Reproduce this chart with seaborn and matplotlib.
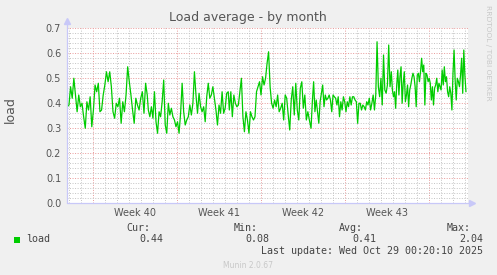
import numpy as np
import pandas as pd
import matplotlib
matplotlib.use("Agg")
import matplotlib.pyplot as plt
import matplotlib.transforms as mtransforms
from matplotlib.ticker import MultipleLocator, FixedLocator, NullFormatter, FormatStrFormatter
import seaborn as sns

# ---------------- data ----------------
title = "Load average - by month"
ylabel = "load"
week_labels = ["Week 40", "Week 41", "Week 42", "Week 43"]
week_starts = [0, 7, 14, 21, 28]          # days since start of week 40
x_range = (-2.167, 31.25)                 # graph window, days
y_range = (0.0, 0.7)

# 2-hour averaged load, split per time span (days)
seg_spans = [(-2.14, 4.52), (4.61, 11.27), (11.36, 18.03), (18.17, 24.75), (24.86, 31.08)]
seg1 = [0.385, 0.392, 0.465, 0.419, 0.499, 0.432, 0.365, 0.432, 0.385, 0.399,
        0.345, 0.299, 0.405, 0.372, 0.425, 0.305, 0.372, 0.472, 0.445, 0.479,
        0.365, 0.372, 0.432, 0.472, 0.525, 0.485, 0.525, 0.465, 0.365, 0.339,
        0.399, 0.385, 0.419, 0.319, 0.405, 0.365, 0.432, 0.545, 0.485, 0.432,
        0.372, 0.319, 0.419, 0.392, 0.372, 0.419, 0.445, 0.359, 0.479, 0.432]
seg2 = [0.372, 0.345, 0.385, 0.339, 0.445, 0.325, 0.279, 0.365, 0.345, 0.405,
        0.492, 0.312, 0.279, 0.399, 0.352, 0.379, 0.345, 0.332, 0.305, 0.325,
        0.279, 0.359, 0.479, 0.365, 0.312, 0.332, 0.345, 0.392, 0.352, 0.399,
        0.525, 0.432, 0.359, 0.439, 0.385, 0.365, 0.385, 0.325, 0.425, 0.479,
        0.419, 0.432, 0.465, 0.419, 0.372, 0.312, 0.392, 0.359, 0.445, 0.359,
        0.379, 0.439, 0.445]
seg3 = [0.372, 0.445, 0.345, 0.432, 0.399, 0.385, 0.392, 0.445, 0.499, 0.345,
        0.285, 0.365, 0.332, 0.279, 0.365, 0.345, 0.332, 0.345, 0.445, 0.465,
        0.485, 0.432, 0.505, 0.472, 0.499, 0.559, 0.605, 0.465, 0.399, 0.379,
        0.412, 0.385, 0.432, 0.365, 0.379, 0.399, 0.332, 0.432, 0.419, 0.352,
        0.292, 0.412, 0.465, 0.352, 0.479, 0.372, 0.332, 0.459, 0.485, 0.379,
        0.432, 0.332, 0.365, 0.332]
seg4 = [0.299, 0.405, 0.485, 0.365, 0.412, 0.365, 0.319, 0.405, 0.439, 0.472,
        0.385, 0.432, 0.412, 0.419, 0.432, 0.412, 0.365, 0.432, 0.425, 0.419,
        0.392, 0.425, 0.345, 0.405, 0.372, 0.425, 0.405, 0.365, 0.405, 0.385,
        0.425, 0.392, 0.425, 0.425, 0.412, 0.405, 0.319, 0.399, 0.399, 0.372,
        0.392, 0.385, 0.372, 0.405, 0.392, 0.419, 0.372, 0.399, 0.432, 0.372,
        0.432, 0.645, 0.465, 0.425, 0.499, 0.392, 0.592, 0.452, 0.439, 0.472,
        0.632, 0.465]
seg5 = [0.525, 0.452, 0.425, 0.445, 0.379, 0.472, 0.532, 0.432, 0.505, 0.545,
        0.399, 0.479, 0.525, 0.405, 0.432, 0.472, 0.385, 0.452, 0.472, 0.499,
        0.519, 0.505, 0.465, 0.385, 0.512, 0.519, 0.485, 0.525, 0.579, 0.525,
        0.552, 0.392, 0.519, 0.512, 0.485, 0.499, 0.479, 0.412, 0.465, 0.392,
        0.459, 0.472, 0.499, 0.445, 0.479, 0.465, 0.452, 0.532, 0.472, 0.545,
        0.485, 0.505, 0.445, 0.425, 0.465, 0.439, 0.372, 0.519, 0.612, 0.492,
        0.412, 0.499, 0.485, 0.465, 0.512, 0.579, 0.439, 0.612, 0.512, 0.445]
segments = [seg1, seg2, seg3, seg4, seg5]

stat_names = ["Cur:", "Min:", "Avg:", "Max:"]
stat_values = ["0.44", "0.08", "0.41", "2.04"]
series_name = "load"
last_update = "Last update: Wed Oct 29 00:20:10 2025"
footer = "Munin 2.0.67"
watermark = "RRDTOOL / TOBI OETIKER"

# ---------------- build frame ----------------
frames = []
for (a, b), vals in zip(seg_spans, segments):
    frames.append(pd.DataFrame({"day": np.linspace(a, b, len(vals)), "load": vals}))
df = pd.concat(frames, ignore_index=True)

# ---------------- plot ----------------
sns.set_theme(style="white")
plt.rcParams["font.family"] = ["DejaVu Sans"]

W, H = 497, 275
fig = plt.figure(figsize=(W / 100, H / 100), dpi=100, facecolor="#f0f0f0")
ax = fig.add_axes([67 / W, 72 / H, 401 / W, 175 / H])
ax.set_facecolor("white")

green = "#00cc00"
sns.lineplot(data=df, x="day", y="load", color=green, linewidth=0.9, ax=ax, legend=False)

ax.set_xlim(*x_range)
ax.set_ylim(*y_range)

ax.yaxis.set_major_locator(MultipleLocator(0.1))
ax.yaxis.set_minor_locator(MultipleLocator(0.02))
ax.yaxis.set_major_formatter(FormatStrFormatter("%.1f"))
ax.xaxis.set_major_locator(FixedLocator(week_starts))
ax.xaxis.set_minor_locator(MultipleLocator(1))
ax.xaxis.set_major_formatter(NullFormatter())

ax.set_axisbelow(True)
ax.grid(which="minor", color="#c4c4c4", linestyle=(0, (1, 1.6)), linewidth=0.7)
ax.grid(which="major", color="#e89a9a", linestyle=(0, (1, 1.6)), linewidth=0.7)

for s in ax.spines.values():
    s.set_visible(False)

ax.tick_params(axis="both", which="major", length=2.2, width=0.6, color="#e89a9a",
               labelsize=7, labelcolor="#555555", pad=2)
ax.tick_params(axis="both", which="minor", length=1.5, width=0.5, color="#c4c4c4")
ax.set_xlabel("")
ax.set_ylabel("")

# axes with arrows
axis_col = "#c8c8f8"
ax.plot([0, 0], [0, 1.03], transform=ax.transAxes, color=axis_col, lw=0.9, clip_on=False)
ax.plot([0, 1.005], [0, 0], transform=ax.transAxes, color=axis_col, lw=0.9, clip_on=False)
ax.plot([0], [1.04], marker="^", ms=4.5, color=axis_col, transform=ax.transAxes, clip_on=False)
ax.plot([1.01], [0], marker=">", ms=4.5, color=axis_col, transform=ax.transAxes, clip_on=False)

# week labels at mid-week
trans = mtransforms.blended_transform_factory(ax.transData, ax.transAxes)
for i, lab in enumerate(week_labels):
    mid = (week_starts[i] + week_starts[i + 1]) / 2
    ax.text(mid, -10 / 175, lab, transform=trans, ha="center", va="center",
            fontsize=7, color="#555555")

def fx(px):
    return px / W

def fy(py):
    return 1 - py / H

fig.text(fx(248), fy(18), title, ha="center", va="center", fontsize=9, color="#555555")
fig.text(fx(10), fy(110), ylabel, ha="center", va="center", rotation=90, fontsize=9, color="#555555")
fig.text(fx(488), fy(53), watermark, ha="center", va="center", rotation=270,
         fontsize=5.4, color="#c8c8c8")

mono = "DejaVu Sans Mono"
tc = "#444444"
fig.patches.append(plt.Rectangle((fx(14), fy(242.5)), 6 / W, 6 / H, transform=fig.transFigure,
                                 facecolor=green, edgecolor="none"))
fig.text(fx(26.5), fy(239.5), series_name, ha="left", va="center", family=mono, fontsize=7.2, color=tc)
name_right = [150.5, 258, 363, 471]
val_right = [163, 269.5, 376.5, 483]
for n, v, xn, xv in zip(stat_names, stat_values, name_right, val_right):
    fig.text(fx(xn), fy(228), n, ha="right", va="center", family=mono, fontsize=7.2, color=tc)
    fig.text(fx(xv), fy(239.5), v, ha="right", va="center", family=mono, fontsize=7.2, color=tc)
fig.text(fx(483), fy(251.5), last_update, ha="right", va="center", family=mono, fontsize=7.2, color=tc)
fig.text(fx(248), fy(265), footer, ha="center", va="center", fontsize=5.5, color="#c8c8c8")

fig.savefig("out.png", dpi=100, facecolor=fig.get_facecolor())
